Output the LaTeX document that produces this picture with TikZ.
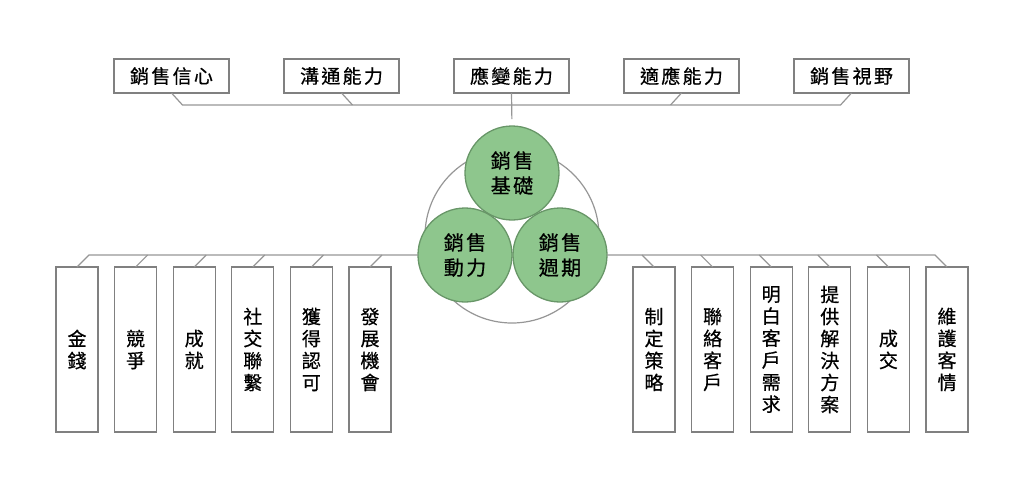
\documentclass[tikz,border=0pt]{standalone}
\usepackage{fontspec}
\newfontfamily\cjk[LetterSpace=12,FakeBold=0.6]{Noto Sans CJK TC}
\usetikzlibrary{positioning,calc}
\definecolor{boxgray}{RGB}{128,128,128}
\definecolor{linegray}{RGB}{150,150,150}
\definecolor{coregreen}{RGB}{142,198,141}
\definecolor{coreedge}{RGB}{104,150,104}
\begin{document}
\begin{tikzpicture}[
        x=1pt, y=-1pt,
        topbox/.style={draw=boxgray, line width=1.3pt, minimum width=115pt, minimum height=34pt,
            inner sep=0pt, outer sep=0pt, font=\cjk\fontsize{19}{22}\selectfont},
        colbox/.style={draw=boxgray, line width=1.3pt, minimum width=42pt, minimum height=165pt,
            inner sep=0pt, outer sep=0pt, align=center, font=\cjk\fontsize{19}{22}\selectfont},
        core/.style={circle, draw=coreedge, line width=1.3pt, fill=coregreen, minimum size=94pt,
            inner sep=0pt, outer sep=0pt, align=center, font=\cjk\fontsize{20}{25}\selectfont},
        link/.style={draw=linegray, line width=1.2pt},
        node distance=16.6pt,
    ]
    \useasboundingbox (0,0) rectangle (1024,496);
    % outer ring behind the three cores
    \draw[linegray, line width=1.2pt] (512,236) circle (87pt);
    \node[core](base) at (512,173) {銷售\\基礎};
    \node[core](drive) at (465,255) {銷售\\動力};
    \node[core](period) at (560,255) {銷售\\週期};
    % top row
    \node[topbox](confidence) at (171.5,76) {銷售信心};
    \node[topbox, right=55pt of confidence](communication) {溝通能力};
    \node[topbox, right=55pt of communication](response) {應變能力};
    \node[topbox, right=55pt of response](adaptation) {適應能力};
    \node[topbox, right=55pt of adaptation](vision) {銷售視野};
    \draw[link] (confidence.south) -- ++(11,12) -- ($(vision.south)+(-11,12)$) -- (vision.south);
    \draw[link] (communication.south) -- ++(11,12);
    \draw[link] (adaptation.south) -- ++(-11,12);
    \draw[link, shorten >=7pt] (response.south) -- (base.north);
    % motivation column
    \node[colbox](money) at (77,349.5) {金\\錢};
    \node[colbox, right=of money](compete) {競\\爭};
    \node[colbox, right=of compete](achieve) {成\\就};
    \node[colbox, right=of achieve](social) {社\\交\\聯\\繫};
    \node[colbox, right=of social](approval) {獲\\得\\認\\可};
    \node[colbox, right=of approval](growth) {發\\展\\機\\會};
    \draw[link] (drive.west) -- ($(money.north)+(12,-12)$) -- (money.north);
    \draw[link] (compete.north) -- ++(12,-12);
    \draw[link] (achieve.north) -- ++(12,-12);
    \draw[link] (social.north) -- ++(12,-12);
    \draw[link] (approval.north) -- ++(12,-12);
    \draw[link] (growth.north) -- ++(12,-12);
    % cycle column
    \node[colbox](strategy) at (654,349.5) {制\\定\\策\\略};
    \node[colbox, right=of strategy](contact) {聯\\絡\\客\\戶};
    \node[colbox, right=of contact](needs) {明\\白\\客\\戶\\需\\求};
    \node[colbox, right=of needs](solution) {提\\供\\解\\決\\方\\案};
    \node[colbox, right=of solution](deal) {成\\交};
    \node[colbox, right=of deal](maintain) {維\\護\\客\\情};
    \draw[link] (period.east) -- ($(maintain.north)+(-12,-12)$) -- (maintain.north);
    \draw[link] (strategy.north) -- ++(-12,-12);
    \draw[link] (contact.north) -- ++(-12,-12);
    \draw[link] (needs.north) -- ++(-12,-12);
    \draw[link] (solution.north) -- ++(-12,-12);
    \draw[link] (deal.north) -- ++(-12,-12);
\end{tikzpicture}
\end{document}
